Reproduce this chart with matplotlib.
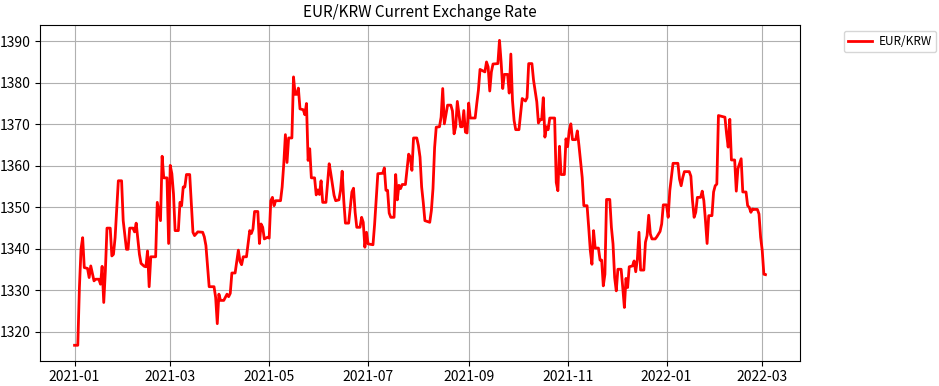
import numpy as np
import pandas as pd
from matplotlib import pyplot as plt

# days after 2021-01-01 and EUR/KRW rate
day_offsets = [
    0, 2, 3, 4, 5, 6, 8, 9, 10, 12, 13, 15, 16, 17, 18, 19, 20, 22, 23, 24,
    25, 27, 29, 30, 32, 33, 34, 36, 37, 38, 40, 41, 43, 44, 45, 46, 47, 50, 51, 53,
    54, 55, 57, 58, 59, 60, 61, 62, 64, 65, 66, 67, 68, 69, 71, 73, 74, 76, 79, 80,
    81, 83, 86, 87, 88, 89, 90, 92, 94, 95, 96, 97, 99, 101, 102, 103, 104, 106, 108, 109,
    110, 111, 113, 114, 115, 116, 117, 119, 120, 121, 122, 123, 124, 127, 128, 129, 130, 131, 132, 134,
    135, 136, 137, 138, 139, 141, 142, 143, 144, 145, 146, 148, 149, 150, 151, 152, 153, 155, 157, 158,
    160, 161, 163, 164, 165, 166, 167, 169, 171, 172, 173, 174, 176, 177, 178, 179, 180, 181, 184, 185,
    187, 190, 191, 192, 193, 194, 195, 197, 198, 199, 200, 201, 202, 204, 206, 207, 208, 209, 211, 212,
    213, 214, 215, 216, 219, 220, 221, 222, 223, 225, 226, 227, 228, 230, 232, 233, 234, 235, 236, 238,
    239, 240, 241, 242, 243, 244, 247, 248, 249, 250, 253, 254, 255, 256, 257, 258, 261, 262, 263, 264,
    265, 267, 268, 269, 270, 271, 272, 274, 276, 278, 279, 280, 282, 283, 284, 285, 286, 287, 288, 289,
    290, 291, 292, 293, 296, 297, 298, 299, 300, 302, 303, 304, 305, 306, 307, 309, 310, 311, 313, 314,
    316, 317, 318, 319, 320, 321, 323, 324, 325, 326, 327, 328, 330, 331, 332, 333, 334, 335, 337, 338,
    339, 340, 341, 342, 344, 345, 346, 347, 348, 349, 351, 352, 353, 354, 355, 356, 358, 359, 361, 362,
    363, 365, 366, 367, 369, 372, 373, 374, 375, 376, 379, 380, 381, 382, 383, 384, 386, 387, 388, 389,
    390, 391, 393, 394, 395, 396, 397, 399, 401, 402, 403, 404, 405, 407, 408, 409, 410, 411, 412, 414,
    415, 416, 417, 418, 419, 421, 422, 423, 424, 425, 426,
]
rates = [
    1316.8, 1316.8, 1330.7, 1340.0, 1342.7, 1335.5, 1335.3, 1333.1, 1335.9, 1332.3,
    1332.7, 1332.7, 1331.5, 1335.8, 1327.1, 1334.7, 1345.0, 1345.0, 1338.3, 1338.7,
    1342.7, 1356.4, 1356.4, 1346.8, 1339.9, 1339.9, 1345.0, 1345.0, 1344.1, 1346.2,
    1338.7, 1336.5, 1335.8, 1335.7, 1339.5, 1330.9, 1338.1, 1338.1, 1351.2, 1346.8,
    1362.3, 1357.1, 1357.1, 1341.3, 1360.1, 1358.1, 1353.3, 1344.4, 1344.4, 1351.2,
    1350.4, 1354.9, 1354.9, 1357.9, 1357.9, 1344.0, 1343.2, 1344.1, 1344.0, 1342.9,
    1340.8, 1330.9, 1330.9, 1328.3, 1322.0, 1329.1, 1327.6, 1327.6, 1329.1, 1328.5,
    1329.3, 1334.2, 1334.2, 1339.7, 1337.0, 1336.2, 1338.1, 1338.1, 1344.4, 1343.7,
    1344.8, 1349.0, 1349.0, 1341.3, 1346.0, 1345.2, 1342.4, 1342.8, 1342.6, 1351.6,
    1352.4, 1350.4, 1351.6, 1351.6, 1354.9, 1360.5, 1367.5, 1360.8, 1366.7, 1366.7,
    1381.4, 1377.2, 1377.2, 1378.7, 1373.7, 1373.5, 1372.3, 1375.0, 1361.3, 1364.1,
    1357.1, 1357.1, 1353.0, 1354.2, 1353.1, 1356.4, 1351.2, 1351.2, 1360.5, 1358.1,
    1352.9, 1351.6, 1351.8, 1354.1, 1358.7, 1351.6, 1346.2, 1346.2, 1353.7, 1354.6,
    1348.8, 1345.2, 1345.2, 1347.6, 1346.4, 1340.4, 1344.0, 1341.2, 1341.0, 1345.9,
    1358.1, 1358.2, 1359.5, 1354.1, 1354.1, 1348.6, 1347.6, 1347.6, 1357.9, 1351.8,
    1355.3, 1354.5, 1355.5, 1355.5, 1362.8, 1362.1, 1358.9, 1366.7, 1366.7, 1364.9,
    1362.1, 1354.9, 1351.2, 1346.8, 1346.4, 1349.2, 1354.5, 1364.4, 1369.3, 1369.4,
    1371.7, 1378.6, 1370.1, 1374.6, 1374.6, 1373.2, 1367.7, 1369.4, 1375.5, 1369.4,
    1369.4, 1373.3, 1368.1, 1367.9, 1375.1, 1371.5, 1371.5, 1375.0, 1378.2, 1383.2,
    1382.6, 1385.0, 1383.8, 1378.0, 1382.6, 1384.5, 1384.6, 1390.2, 1385.0, 1378.6,
    1382.0, 1382.0, 1377.5, 1386.9, 1375.8, 1370.9, 1368.7, 1368.7, 1376.2, 1375.6,
    1376.4, 1384.6, 1384.6, 1380.6, 1378.0, 1375.4, 1370.3, 1371.1, 1371.1, 1376.4,
    1366.9, 1369.4, 1368.7, 1371.5, 1371.5, 1356.0, 1354.0, 1364.7, 1357.9, 1357.9,
    1366.5, 1364.6, 1368.5, 1370.1, 1366.3, 1366.3, 1368.4, 1364.9, 1357.2, 1350.4,
    1350.4, 1345.2, 1339.6, 1336.3, 1344.4, 1340.2, 1340.2, 1337.3, 1337.3, 1331.1,
    1333.9, 1351.9, 1351.9, 1345.2, 1341.2, 1333.1, 1329.9, 1335.1, 1335.1, 1330.7,
    1325.9, 1332.9, 1330.7, 1335.7, 1335.9, 1337.1, 1334.5, 1337.5, 1344.0, 1334.9,
    1334.9, 1341.6, 1343.2, 1348.1, 1343.6, 1342.4, 1342.4, 1342.9, 1344.2, 1346.0,
    1350.6, 1350.6, 1347.6, 1354.0, 1360.6, 1360.6, 1356.8, 1355.2, 1357.2, 1358.6,
    1358.6, 1357.5, 1351.6, 1347.6, 1348.8, 1352.4, 1352.4, 1353.9, 1351.6, 1346.8,
    1341.3, 1348.0, 1348.0, 1353.7, 1355.2, 1355.6, 1372.1, 1371.9, 1371.7, 1367.7,
    1364.5, 1371.2, 1361.4, 1361.4, 1353.9, 1359.3, 1360.5, 1361.7, 1353.7, 1353.7,
    1350.4, 1350.0, 1348.8, 1349.6, 1349.5, 1349.5, 1348.4, 1342.8, 1339.6, 1333.9,
    1333.8,
]

dates = pd.Timestamp("2021-01-01") + pd.to_timedelta(day_offsets, unit="D")

plt.rcParams["font.family"] = ["Noto Sans CJK KR", "DejaVu Sans"]
plt.rcParams["font.size"] = 10

fig = plt.figure(figsize=(9.39, 3.86), dpi=100)
ax = fig.add_axes([0.0426, 0.066, 0.8094, 0.869])
ax.plot(dates, rates, color="red", linewidth=2, label="EUR/KRW")
ax.set_title("EUR/KRW Current Exchange Rate", fontsize=11)
ax.grid(True)
ax.legend(loc="upper left", bbox_to_anchor=(1.05, 1), fontsize=8.5,
          handlelength=2.0, handletextpad=0.6, borderpad=0.35)
fig.savefig("out.png", dpi=100)
